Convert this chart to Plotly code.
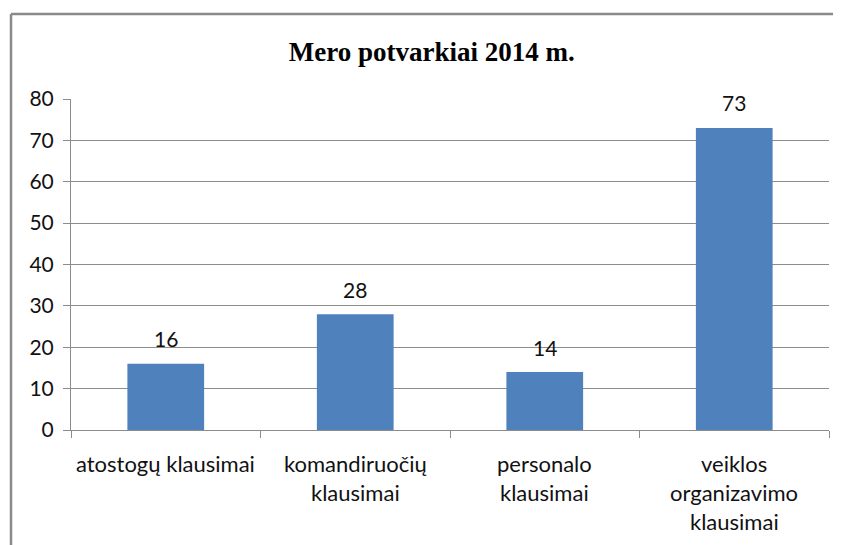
import plotly.graph_objects as go

# chart data
categories = ['atostogų klausimai', 'komandiruočių klausimai', 'personalo klausimai', 'veiklos organizavimo klausimai']
label_lines = [['atostogų klausimai'],
               ['komandiruočių', 'klausimai'],
               ['personalo', 'klausimai'],
               ['veiklos', 'organizavimo', 'klausimai']]
values = [16, 28, 14, 73]
y_ticks = [0, 10, 20, 30, 40, 50, 60, 70, 80]

BAR = '#4F81BD'
GRID = '#8C8C8C'
TXT = '#111111'
SANS = 'Lato, Carlito, Calibri, sans-serif'

fig = go.Figure(go.Bar(x=categories, y=values, marker=dict(color=BAR, line=dict(width=0)),
                       width=0.405, hoverinfo='x+y'))

# data labels above bars
for c, v in zip(categories, values):
    fig.add_annotation(x=c, y=v, xref='x', yref='y', text=str(v), showarrow=False,
                       yanchor='middle', yshift=25, font=dict(family=SANS, size=21, color=TXT))

# category labels, one annotation per line
for c, lines in zip(categories, label_lines):
    for i, ln in enumerate(lines):
        fig.add_annotation(x=c, y=0, xref='x', yref='y', text=ln, showarrow=False,
                           yanchor='middle', yshift=-33 - 29 * i,
                           font=dict(family=SANS, size=22, color=TXT))

# chart frame (left and top edges visible); page body adds an 8px offset
fx = -60 / 758
fy = 1 + 85 / 331
fig.add_shape(type='line', xref='paper', yref='paper', x0=fx, x1=fx, y0=-0.5, y1=fy,
              line=dict(color='#8A8A8A', width=2.5))
fig.add_shape(type='line', xref='paper', yref='paper', x0=fx, x1=1.1, y0=fy, y1=fy,
              line=dict(color='#8A8A8A', width=2.5))

fig.update_layout(
    width=841, height=545,
    margin=dict(l=63, r=20, t=91, b=123),
    paper_bgcolor='white', plot_bgcolor='white',
    showlegend=False,
    title=dict(text='<b>Mero potvarkiai 2014 m.</b>', x=0.476, xref='paper', xanchor='center',
               y=1 - 44 / 545, yref='container', yanchor='middle',
               font=dict(family='Liberation Serif, Times New Roman, serif', size=27, color='black')),
    bargap=0.595,
)

fig.update_xaxes(type='category', showticklabels=False, showline=True, linecolor=GRID, linewidth=1,
                 ticks='outside', tickson='boundaries', ticklen=7, tickcolor=GRID, showgrid=False,
                 fixedrange=True)
fig.update_yaxes(range=[0, 80], tickvals=y_ticks, showline=True, linecolor=GRID, linewidth=1,
                 ticks='outside', ticklen=7, tickcolor=GRID, showgrid=True, gridcolor=GRID, gridwidth=1,
                 zeroline=False, tickfont=dict(family=SANS, size=21, color=TXT), ticklabelstandoff=5,
                 fixedrange=True)

fig.write_html('out.html')
